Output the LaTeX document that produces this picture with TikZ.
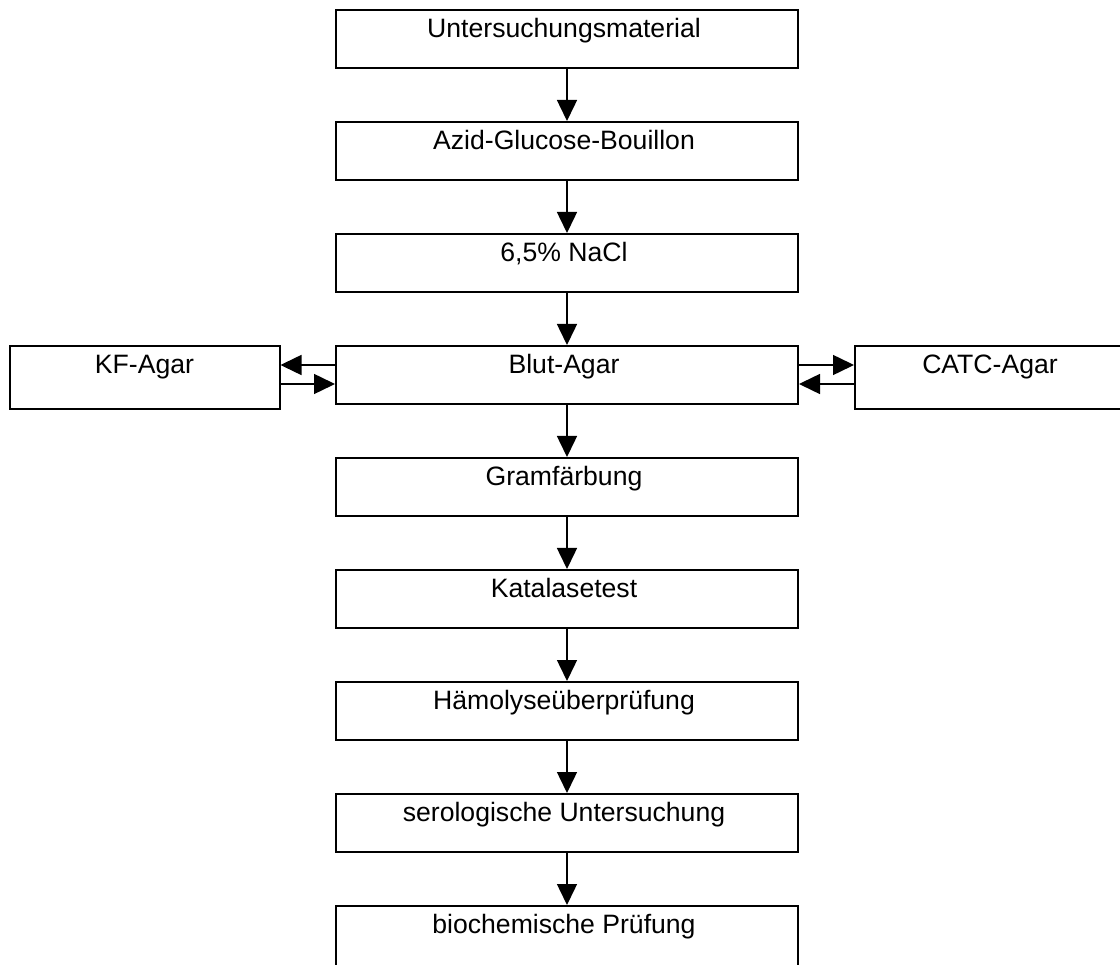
\documentclass[tikz,border=0pt]{standalone}
\usepackage{fontspec}
\setmainfont{Liberation Sans}
\usetikzlibrary{arrows.meta,calc}
\tikzset{
  cbox/.style={draw, line width=2pt, minimum width=462pt, minimum height=58pt, inner sep=0pt,
    label={[anchor=base, yshift=-28.5pt, xshift=-3pt, font=\fontsize{26.6}{32}\selectfont, inner sep=0pt]north:#1}},
  sbox/.style={draw, line width=2pt, minimum width=270pt, minimum height=63pt, inner sep=0pt,
    label={[anchor=base, yshift=-28.5pt, font=\fontsize{26.6}{32}\selectfont, inner sep=0pt]north:#1}},
  arr/.style={line width=1.5pt, -{Triangle[length=21pt,width=20pt]}}
}
\begin{document}
\begin{tikzpicture}[x=1pt,y=-1pt]
\useasboundingbox (0,0) rectangle (1120,965);
\clip (0,0) rectangle (1120,965);
\node[cbox={Untersuchungsmaterial}] (n1) at (567,39) {};
\node[cbox={Azid-Glucose-Bouillon}] (n2) at (567,151) {};
\node[cbox={6,5\% NaCl}] (n3) at (567,263) {};
\node[cbox={Blut-Agar}] (n4) at (567,375) {};
\node[cbox={Gramfärbung}] (n5) at (567,487) {};
\node[cbox={Katalasetest}] (n6) at (567,599) {};
\node[cbox={Hämolyseüberprüfung}] (n7) at (567,711) {};
\node[cbox={serologische Untersuchung}] (n8) at (567,823) {};
\node[cbox={biochemische Prüfung}, minimum height=64pt] (n9) at (567,938) {};
\node[sbox={KF-Agar}] (kf) at (144.5,377.5) {};
\node[sbox={CATC-Agar}] (catc) at (990,377.5) {};
\draw[arr] (n1.south) -- (n2.north);
\draw[arr] (n2.south) -- (n3.north);
\draw[arr] (n3.south) -- (n4.north);
\draw[arr] (n4.south) -- (n5.north);
\draw[arr] (n5.south) -- (n6.north);
\draw[arr] (n6.south) -- (n7.north);
\draw[arr] (n7.south) -- (n8.north);
\draw[arr] (n8.south) -- (n9.north);
\draw[arr] ([yshift=10pt]n4.west) -- ([yshift=10pt]n4.west -| kf.east);
\draw[arr] ([yshift=-9pt]n4.west -| kf.east) -- ([yshift=-9pt]n4.west);
\draw[arr] ([yshift=10pt]n4.east) -- ([yshift=10pt]n4.east -| catc.west);
\draw[arr] ([yshift=-9pt]n4.east -| catc.west) -- ([yshift=-9pt]n4.east);
\end{tikzpicture}
\end{document}
